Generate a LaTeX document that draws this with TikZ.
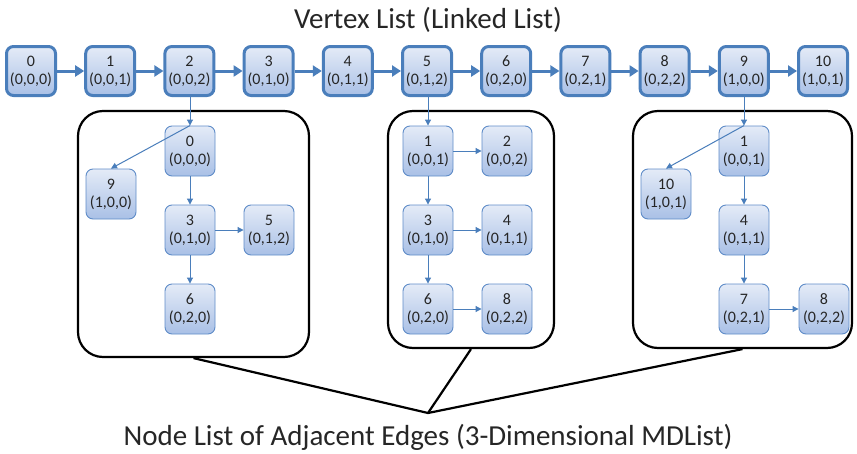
\documentclass[tikz,border=0pt]{standalone}
\usepackage{fontspec}
\setmainfont{Carlito}
\usetikzlibrary{arrows.meta}
\definecolor{vborder}{HTML}{4A7EBB}
\definecolor{nborder}{HTML}{5F8CC8}
\definecolor{gtop}{HTML}{E4EBF7}
\definecolor{gbot}{HTML}{A9C0E6}
\definecolor{txt}{HTML}{262626}
\tikzset{
  vbox/.style={draw=vborder, line width=3pt, rounded corners=7pt, top color=gtop, bottom color=gbot,
    minimum width=49pt, minimum height=49pt, align=center, font=\fontsize{16}{18}\selectfont, text=txt, inner sep=0pt},
  nbox/.style={draw=nborder, line width=0.9pt, rounded corners=7pt, top color=gtop, bottom color=gbot,
    minimum width=50pt, minimum height=50pt, align=center, font=\fontsize{16}{18}\selectfont, text=txt, inner sep=0pt},
  container/.style={draw=black, line width=2.2pt, rounded corners=25pt},
  varrow/.style={draw=vborder, line width=3pt, -{Triangle[length=9pt,width=11pt]}},
  narrow/.style={draw=vborder, line width=1pt, -{Triangle[length=6pt,width=6pt]}},
  bline/.style={draw=black, line width=2.2pt},
  title/.style={font=\fontsize{29}{32}\selectfont, text=txt}
}
\begin{document}
\begin{tikzpicture}[x=1pt,y=-1pt]
\useasboundingbox (0,0) rectangle (857,453);
% titles
\node[title] (t1) at (428,20) {Vertex List (Linked List)};
\node[title] (t2) at (428,437) {Node List of Adjacent Edges (3-Dimensional MDList)};
% vertex list
\foreach \i/\c in {0/{(0,0,0)},1/{(0,0,1)},2/{(0,0,2)},3/{(0,1,0)},4/{(0,1,1)},5/{(0,1,2)},6/{(0,2,0)},7/{(0,2,1)},8/{(0,2,2)},9/{(1,0,0)},10/{(1,0,1)}}{
  \node[vbox] (v\i) at ({31+79.2*\i},71) {\i\\\c};
}
\foreach \i [evaluate=\i as \j using int(\i+1)] in {0,...,9}{
  \draw[varrow] (v\i) -- (v\j);
}
% containers
\node[container, minimum width=231pt, minimum height=246pt] (c1) at (193.5,234) {};
\node[container, minimum width=166pt, minimum height=237pt] (c2) at (471,229.5) {};
\node[container, minimum width=219pt, minimum height=237pt] (c3) at (742.5,229.5) {};
% container 1
\node[nbox] (a0) at (190,151) {0\\(0,0,0)};
\node[nbox] (a9) at (111,194) {9\\(1,0,0)};
\node[nbox] (a3) at (190,230) {3\\(0,1,0)};
\node[nbox] (a5) at (269,230) {5\\(0,1,2)};
\node[nbox] (a6) at (190,309) {6\\(0,2,0)};
\draw[narrow] (v2.south -| a0) -- (a0.north);
\draw[narrow] (a0.north) -- (a9.north);
\draw[narrow] (a0) -- (a3);
\draw[narrow] (a3) -- (a5);
\draw[narrow] (a3) -- (a6);
% container 2
\node[nbox] (b1) at (428,151) {1\\(0,0,1)};
\node[nbox] (b2) at (507,151) {2\\(0,0,2)};
\node[nbox] (b3) at (428,230) {3\\(0,1,0)};
\node[nbox] (b4) at (507,230) {4\\(0,1,1)};
\node[nbox] (b6) at (428,309) {6\\(0,2,0)};
\node[nbox] (b8) at (507,309) {8\\(0,2,2)};
\draw[narrow] (v5.south -| b1) -- (b1.north);
\draw[narrow] (b1) -- (b2);
\draw[narrow] (b1) -- (b3);
\draw[narrow] (b3) -- (b4);
\draw[narrow] (b3) -- (b6);
\draw[narrow] (b6) -- (b8);
% container 3
\node[nbox] (d1) at (744,151) {1\\(0,0,1)};
\node[nbox] (d10) at (666,194) {10\\(1,0,1)};
\node[nbox] (d4) at (744,230) {4\\(0,1,1)};
\node[nbox] (d7) at (744,309) {7\\(0,2,1)};
\node[nbox] (d8) at (824,309) {8\\(0,2,2)};
\draw[narrow] (v9.south -| d1) -- (d1.north);
\draw[narrow] (d1.north) -- (d10.north);
\draw[narrow] (d1) -- (d4);
\draw[narrow] (d4) -- (d7);
\draw[narrow] (d7) -- (d8);
% bottom lines
\coordinate (m) at (428,413);
\draw[bline] (c1.south) -- (m);
\draw[bline] (c2.south) -- (m);
\draw[bline] (c3.south) -- (m);
\end{tikzpicture}
\end{document}
